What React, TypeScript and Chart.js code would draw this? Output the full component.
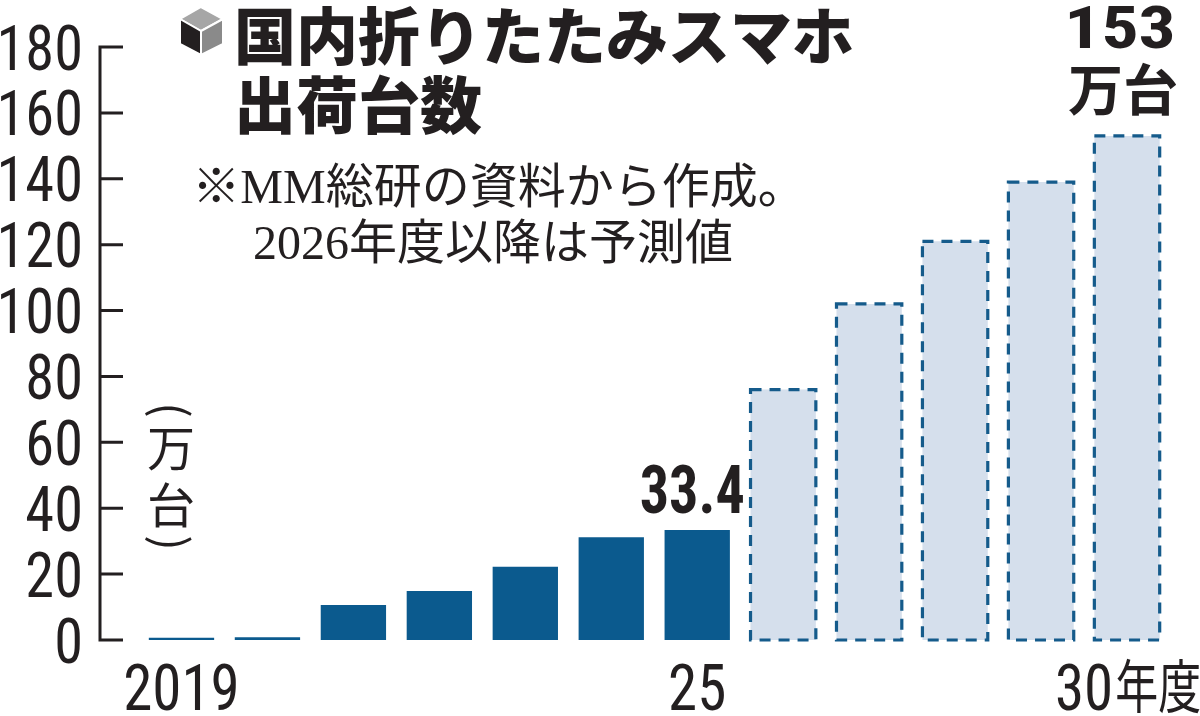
import React, { useEffect, useRef } from 'react';
import { Chart, registerables } from 'chart.js';

Chart.register(...registerables);

// 年度ごとの出荷台数（万台）。2026年度以降は予測値
const years = ['2019', '2020', '2021', '2022', '2023', '2024', '2025', '2026', '2027', '2028', '2029', '2030'];
const xTickLabels = ['2019', '', '', '', '', '', '25', '', '', '', '', '30年度'];
const actualValues = [0.7, 0.8, 10.6, 14.9, 22.2, 31.2, 33.4, null, null, null, null, null];
const forecastValues = [null, null, null, null, null, null, null, 76, 102, 121, 139, 153];
const yTicks = [0, 20, 40, 60, 80, 100, 120, 140, 160, 180];

const titleLines = ['国内折りたたみスマホ', '出荷台数'];
const noteLines = ['※MM総研の資料から作成。', '2026年度以降は予測値'];
const unitChars = ['(', '万', '台', ')'];

const INK = '#231f20';
const SOLID = '#0b5a8e';
const LIGHT = '#d5dfec';
const DASH = '#155b8b';
const NARROW = "'Liberation Sans Narrow', 'Arial Narrow', 'Roboto Condensed', sans-serif";
const JP = "'Noto Sans CJK JP', 'Noto Sans CJK SC', sans-serif";
const SERIF = "'Liberation Serif', 'DejaVu Serif', 'Noto Sans CJK JP', serif";
const AXIS_X = 100;

// 数字の字面を幅 w・高さ h に合わせるための倍率
const inkScale = (ctx: CanvasRenderingContext2D, sample: string, w: number, h: number) => {
  const m = ctx.measureText(sample);
  const inkW = m.actualBoundingBoxLeft + m.actualBoundingBoxRight;
  const inkH = m.actualBoundingBoxAscent;
  return { sx: inkW > 0 ? w / inkW : 1, sy: inkH > 0 ? h / inkH : 1 };
};

const drawScaled = (
  ctx: CanvasRenderingContext2D,
  text: string,
  x: number,
  baseline: number,
  sx: number,
  sy: number,
  align: CanvasTextAlign,
  halo = false,
) => {
  ctx.save();
  ctx.translate(x, baseline);
  ctx.scale(sx, sy);
  ctx.textAlign = align;
  ctx.textBaseline = 'alphabetic';
  if (halo) {
    ctx.save();
    ctx.strokeStyle = '#ffffff';
    ctx.lineWidth = 7;
    ctx.lineJoin = 'round';
    ctx.strokeText(text, 0, 0);
    ctx.restore();
  }
  ctx.fillText(text, 0, 0);
  ctx.restore();
};

const decorPlugin = {
  id: 'decor',
  afterDatasetsDraw(chart: any) {
    const { ctx } = chart;
    const xs = chart.scales.x;
    const ys = chart.scales.y;

    // 予測値の破線枠
    const meta = chart.getDatasetMeta(1);
    ctx.save();
    ctx.strokeStyle = DASH;
    ctx.lineWidth = 3.2;
    ctx.setLineDash([11, 8]);
    meta.data.forEach((bar: any, i: number) => {
      if (forecastValues[i] == null) return;
      const p = bar.getProps(['x', 'y', 'base', 'width'], true);
      ctx.strokeRect(p.x - p.width / 2, p.y, p.width, p.base - p.y);
    });
    ctx.restore();

    // 縦軸と目盛り
    ctx.save();
    ctx.strokeStyle = INK;
    ctx.lineWidth = 3;
    const top = ys.getPixelForValue(yTicks[yTicks.length - 1]);
    const bottom = ys.getPixelForValue(0);
    ctx.beginPath();
    ctx.moveTo(AXIS_X, top - 1.5);
    ctx.lineTo(AXIS_X, bottom + 1.5);
    yTicks.forEach((t) => {
      const py = ys.getPixelForValue(t);
      ctx.moveTo(AXIS_X, py);
      ctx.lineTo(AXIS_X + 23, py);
    });
    ctx.stroke();
    ctx.restore();

    // 縦軸の目盛りラベル（スケールの目盛りから）
    ctx.save();
    ctx.fillStyle = INK;
    ctx.font = `60px ${NARROW}`;
    const ys1 = inkScale(ctx, '180', 80, 45);
    ys.ticks.forEach((t: any) => {
      const py = ys.getPixelForValue(t.value);
      drawScaled(ctx, String(t.value), 83, py + 22.5, ys1.sx, ys1.sy, 'right');
    });
    ctx.restore();

    // 横軸ラベル
    ctx.save();
    ctx.fillStyle = INK;
    ctx.font = `60px ${NARROW}`;
    const xs1 = inkScale(ctx, '2019', 111, 47);
    xTickLabels.forEach((label, i) => {
      if (!label) return;
      const m = label.match(/^(\d+)(.*)$/);
      const num = m ? m[1] : label;
      const rest = m ? m[2] : '';
      ctx.font = `60px ${NARROW}`;
      const wNum = ctx.measureText(num).width * xs1.sx;
      ctx.font = `58px ${JP}`;
      const restScale = 0.74;
      const wRest = rest ? ctx.measureText(rest).width * restScale : 0;
      const cx = xs.getPixelForValue(i);
      const left = cx - (wNum + wRest) / 2;
      ctx.font = `60px ${NARROW}`;
      drawScaled(ctx, num, left, 710, xs1.sx, xs1.sy, 'left');
      if (rest) {
        ctx.save();
        ctx.translate(left + wNum + 2, 708);
        ctx.scale(restScale, 1);
        ctx.font = `58px ${JP}`;
        ctx.textAlign = 'left';
        ctx.fillText(rest, 0, 0);
        ctx.restore();
      }
    });
    ctx.restore();

    // 数値ラベル
    const m0 = chart.getDatasetMeta(0);
    const b25 = m0.data[6].getProps(['x', 'y'], true);
    ctx.save();
    ctx.fillStyle = INK;
    ctx.font = `bold 62px ${NARROW}`;
    const t25 = String(actualValues[6]);
    const s25 = inkScale(ctx, t25, 102, 48);
    drawScaled(ctx, t25, b25.x - 5, b25.y - 17, s25.sx, s25.sy, 'center', true);

    const b30 = meta.data[11].getProps(['x', 'y'], true);
    const t30 = String(forecastValues[11]);
    const s30 = inkScale(ctx, t30, 104, 43);
    drawScaled(ctx, t30, b30.x - 7, b30.y - 88, s30.sx, s30.sy, 'center');
    ctx.font = `bold 55px ${JP}`;
    ctx.textAlign = 'center';
    ctx.textBaseline = 'middle';
    ctx.fillText('万台', b30.x - 4, b30.y - 47);
    ctx.restore();
  },
  afterDraw(chart: any) {
    const { ctx } = chart;
    ctx.save();

    // キューブのアイコン
    const faces: [string, number[][]][] = [
      ['#a6a6a6', [[201, 7], [223, 19], [201, 31], [180, 19]]],
      [INK, [[180, 19], [201, 31], [201, 55], [180, 44]]],
      ['#8a8a8a', [[223, 19], [201, 31], [201, 55], [223, 44]]],
    ];
    faces.forEach(([color, pts]) => {
      ctx.beginPath();
      pts.forEach(([px, py], k) => (k === 0 ? ctx.moveTo(px, py) : ctx.lineTo(px, py)));
      ctx.closePath();
      ctx.fillStyle = color;
      ctx.fill();
      ctx.strokeStyle = '#ffffff';
      ctx.lineWidth = 2;
      ctx.stroke();
    });

    // タイトル
    ctx.fillStyle = INK;
    ctx.textAlign = 'left';
    ctx.textBaseline = 'middle';
    ctx.font = `900 62px ${JP}`;
    ctx.fillText(titleLines[0], 234, 36);
    ctx.fillText(titleLines[1], 234, 105);

    // 注記
    ctx.textAlign = 'center';
    ctx.font = `48px ${SERIF}`;
    ctx.fillText(noteLines[0], 499, 190);
    ctx.fillText(noteLines[1], 493, 246);

    // 単位（縦書き）
    const ux = 171;
    ctx.font = `48px ${JP}`;
    ctx.fillText(unitChars[1], ux, 448);
    ctx.fillText(unitChars[2], ux, 505);
    ctx.font = `46px ${JP}`;
    const parens: [string, number][] = [
      [unitChars[0], 410],
      [unitChars[3], 543],
    ];
    parens.forEach(([ch, py]) => {
      ctx.save();
      ctx.translate(ux, py);
      ctx.rotate(Math.PI / 2);
      ctx.textAlign = 'center';
      ctx.textBaseline = 'middle';
      ctx.fillText(ch, 0, 0);
      ctx.restore();
    });

    ctx.restore();
  },
};

const FoldableChart: React.FC = () => {
  const canvasRef = useRef<HTMLCanvasElement>(null);

  useEffect(() => {
    if (!canvasRef.current) return;
    const chart = new Chart(canvasRef.current, {
      type: 'bar',
      data: {
        labels: years,
        datasets: [
          {
            label: '実績',
            data: actualValues,
            backgroundColor: SOLID,
            borderWidth: 0,
            barPercentage: 0.76,
            categoryPercentage: 1,
          },
          {
            label: '予測',
            data: forecastValues,
            backgroundColor: LIGHT,
            borderWidth: 0,
            barPercentage: 0.76,
            categoryPercentage: 1,
          },
        ],
      },
      options: {
        animation: false,
        responsive: true,
        maintainAspectRatio: false,
        layout: { padding: { top: 47, right: 30, left: 0, bottom: 0 } },
        plugins: {
          legend: { display: false },
          tooltip: { enabled: false },
        },
        scales: {
          x: {
            stacked: true,
            grid: { display: false },
            border: { display: false },
            ticks: { display: false },
            afterFit: (scale: any) => {
              scale.height = 76;
            },
          },
          y: {
            stacked: true,
            min: 0,
            max: 180,
            grid: { display: false },
            border: { display: false },
            ticks: { stepSize: 20, display: false },
            afterFit: (scale: any) => {
              scale.width = 138.5;
              scale.paddingTop = 0;
              scale.paddingBottom = 0;
            },
          },
        },
      },
      plugins: [decorPlugin],
    });
    return () => {
      chart.destroy();
    };
  }, []);

  return (
    <div style={{ position: 'absolute', left: 0, top: 0, width: 1200, height: 716, background: '#fff' }}>
      <canvas ref={canvasRef}></canvas>
    </div>
  );
};

export default function App() {
  return <FoldableChart />;
}
